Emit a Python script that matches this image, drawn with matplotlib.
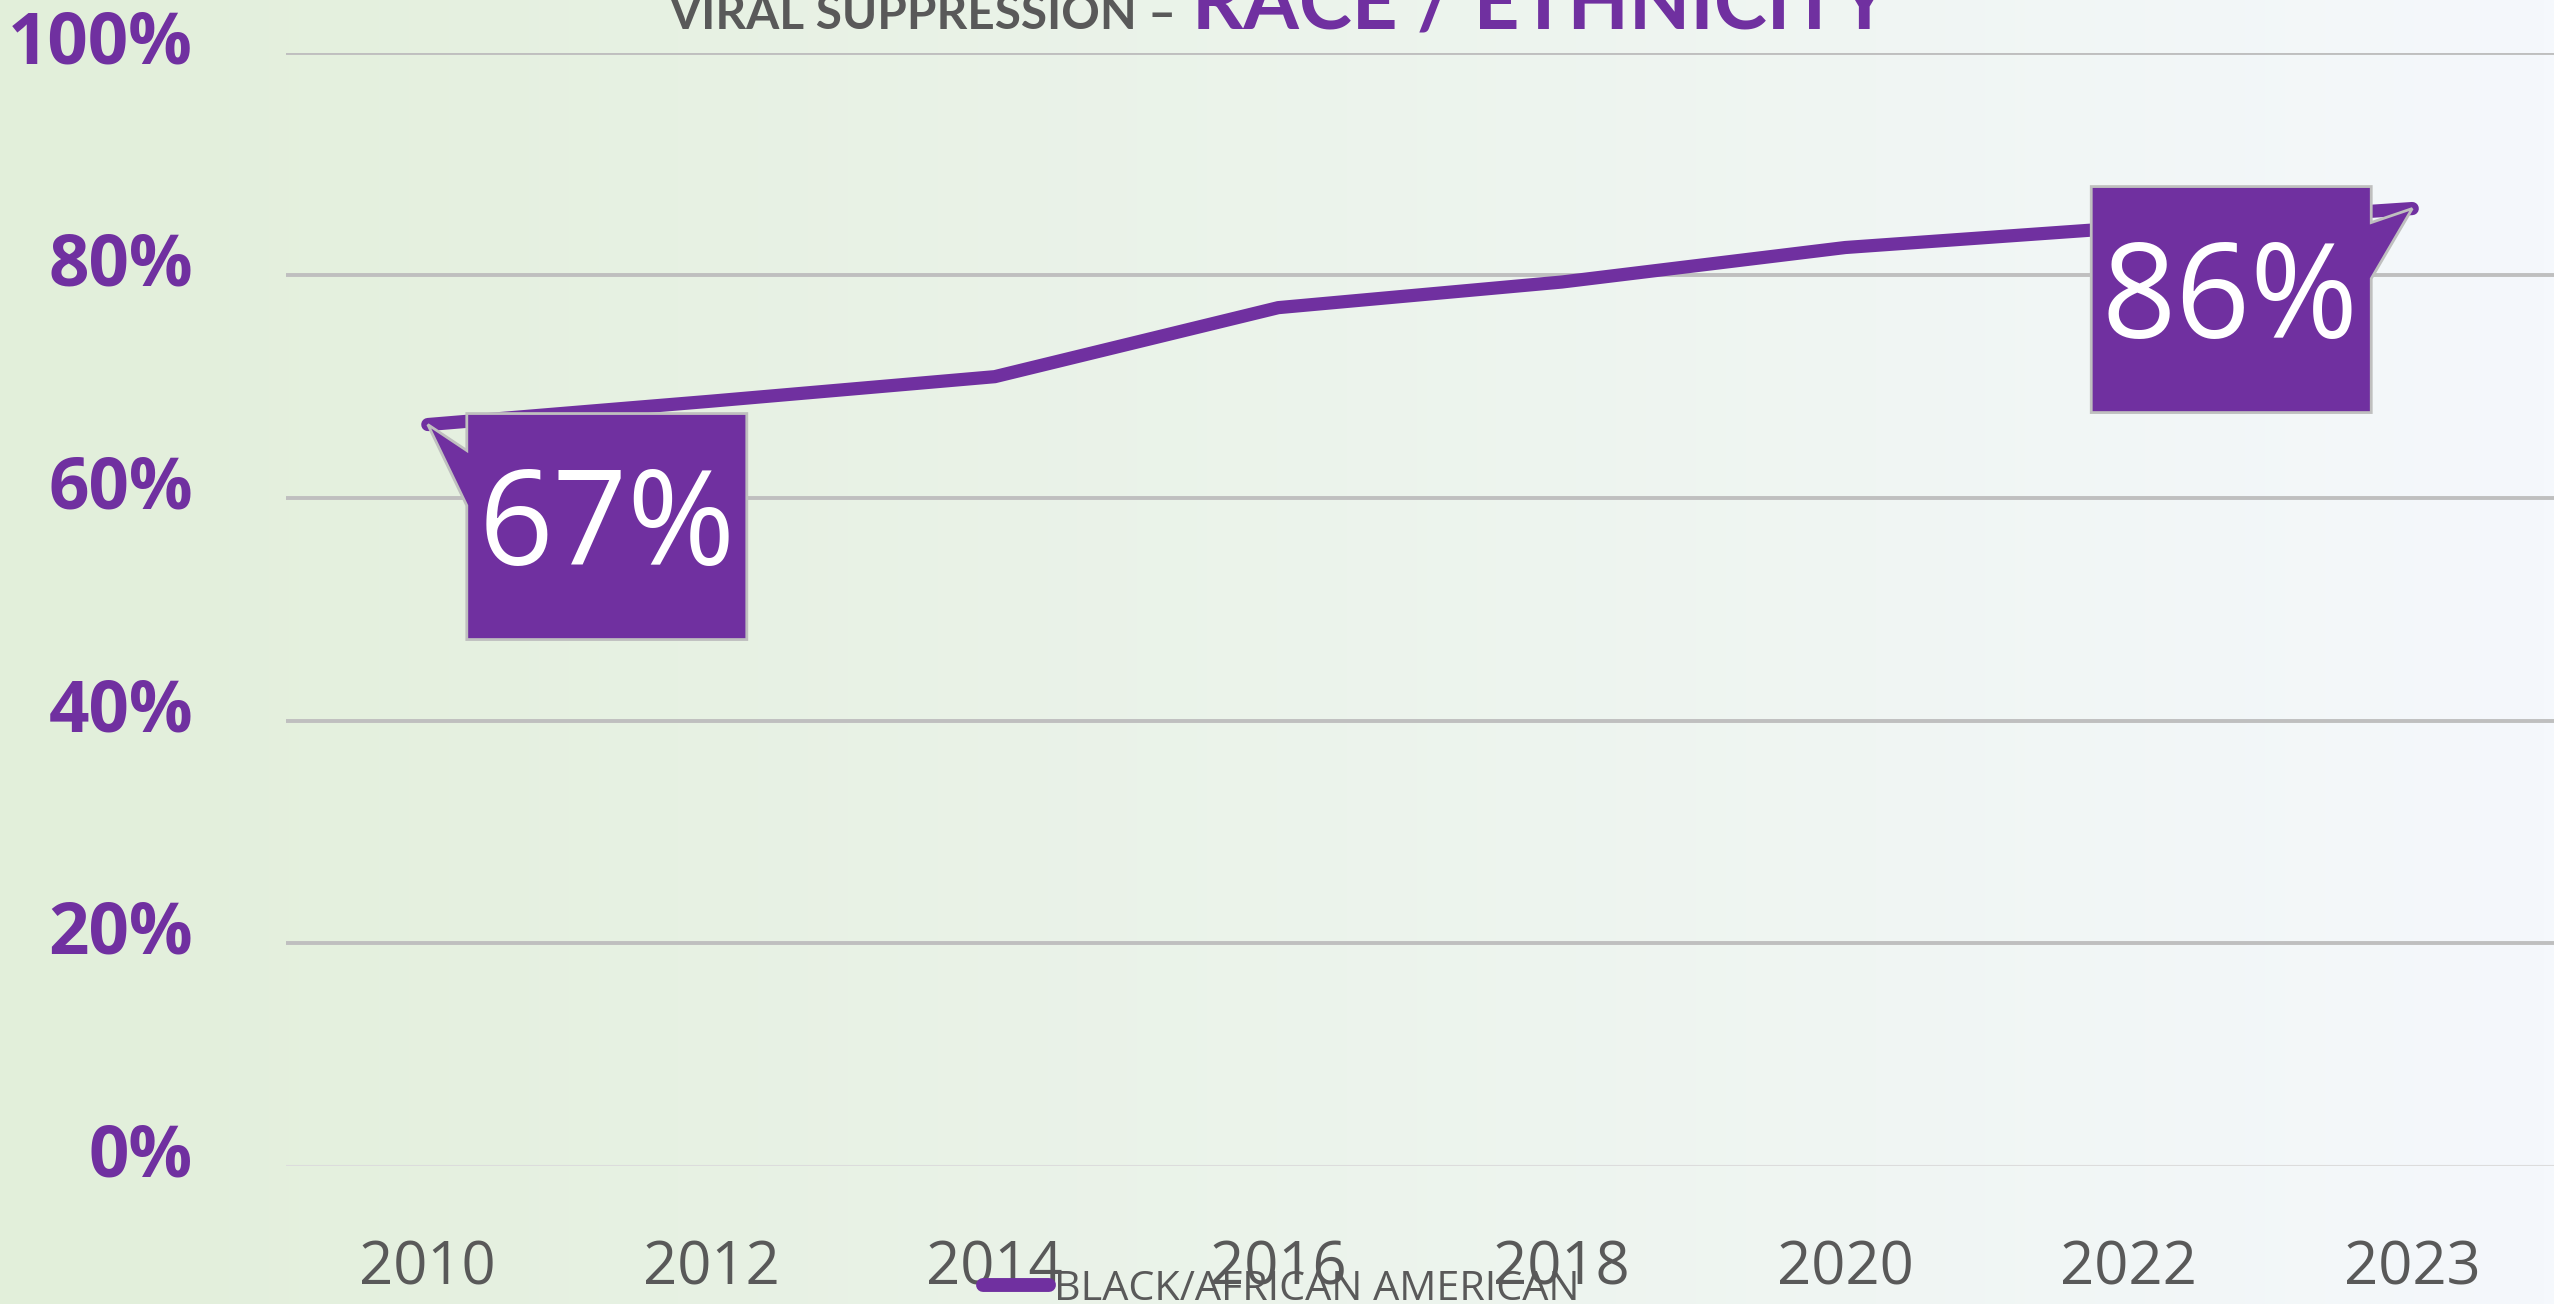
import matplotlib
matplotlib.use('Agg')
import matplotlib.pyplot as plt
import matplotlib.transforms as mtransforms
from matplotlib.colors import LinearSegmentedColormap
from matplotlib.patches import Polygon
from matplotlib.lines import Line2D
import numpy as np

# Data
years = ['2010', '2012', '2014', '2016', '2018', '2020', '2022', '2023']
black_african_american = [66.6, 68.7, 70.9, 77.1, 79.4, 82.5, 84.3, 86.0]
y_ticks = [0, 20, 40, 60, 80, 100]
series_name = 'BLACK/AFRICAN AMERICAN'
title_gray = 'VIRAL SUPPRESSION \u2013'
title_purple = 'RACE / ETHNICITY'

purple = '#7030A0'
gray_txt = '#595959'
grid_col = '#BFBFBF'

fig = plt.figure(figsize=(25.54, 13.04), dpi=100)

# background gradient (light green -> light blue)
bg = fig.add_axes([0, 0, 1, 1])
cmap = LinearSegmentedColormap.from_list('bg', ['#E2EFDA', '#F5F8FC'])
bg.imshow(np.linspace(0, 1, 512).reshape(1, -1), aspect='auto', cmap=cmap,
          extent=[0, 1, 0, 1])
bg.axis('off')

ax = fig.add_axes([0.112, 0.1058, 0.888, 0.8538])
ax.set_facecolor('none')
x = np.arange(len(years))
ax.plot(x, black_african_american, color=purple, lw=9.5,
        solid_capstyle='round', solid_joinstyle='round', zorder=3)

ax.set_xlim(-0.5, len(years) - 0.5)
ax.set_ylim(0, 100)
ax.set_yticks(y_ticks)
ax.set_yticklabels([f'{t}%' for t in y_ticks])
ax.set_xticks(x)
ax.set_xticklabels(years)
for s in ax.spines.values():
    s.set_visible(False)
ax.grid(axis='y', color=grid_col, lw=2.8)
ax.set_axisbelow(True)
ax.yaxis.get_gridlines()[0].set_color('#DCDCDC')
ax.yaxis.get_gridlines()[0].set_linewidth(1.5)

ax.tick_params(axis='y', length=0, pad=67, labelsize=51, labelcolor=purple)
ax.tick_params(axis='x', length=0, pad=52, labelsize=43, labelcolor=gray_txt)
for lab in ax.get_yticklabels():
    lab.set_fontfamily('Open Sans')
    lab.set_fontweight('bold')
    lab.set_transform(lab.get_transform() +
                      mtransforms.ScaledTranslation(0, 0.17, fig.dpi_scale_trans))
for lab in ax.get_xticklabels():
    lab.set_fontfamily('Open Sans')

# title (cut at top edge like the original)
fig.text(0.2615, 0.9778, title_gray, color=gray_txt, fontsize=34.4,
         fontfamily='Lato', fontweight='bold', ha='left', va='baseline')
fig.text(0.4667, 0.9778, title_purple, color=purple, fontsize=57.5,
         fontfamily='Lato', fontweight='bold', ha='left', va='baseline')

# callouts for first and last point
def callout(i, side):
    px, py = ax.transData.transform((x[i], black_african_american[i]))
    if side == 'right':
        pts = [(0, 0), (39, -26), (39, 11), (319, 11), (319, -215),
               (39, -215), (39, -81)]
        tx, ty = 179, -140
    else:
        pts = [(0, 0), (-41, -14), (-41, 22), (-321, 22), (-321, -204),
               (-41, -204), (-41, -70)]
        tx, ty = -182, -129
    tr = mtransforms.Affine2D().translate(px, py)
    poly = Polygon(pts, closed=True, facecolor=purple, edgecolor=grid_col,
                   lw=2, transform=tr, zorder=5, clip_on=False)
    fig.add_artist(poly)
    fig.text(px + tx, py + ty, f'{black_african_american[i]:.0f}%',
             transform=mtransforms.IdentityTransform(), color='white',
             fontsize=94, fontfamily='Open Sans', ha='center', va='baseline',
             zorder=6)

callout(0, 'right')
callout(len(years) - 1, 'left')

handle = Line2D([], [], color=purple, lw=10, solid_capstyle='round')
leg = fig.legend([handle], [series_name], loc='center',
                 bbox_to_anchor=(0.5016, 0.011), frameon=False,
                 handlelength=1.6, handletextpad=0.1, borderpad=0,
                 prop={'family': 'Open Sans', 'size': 29.8})
for t in leg.get_texts():
    t.set_color(gray_txt)

fig.savefig('out.png', dpi=100)
